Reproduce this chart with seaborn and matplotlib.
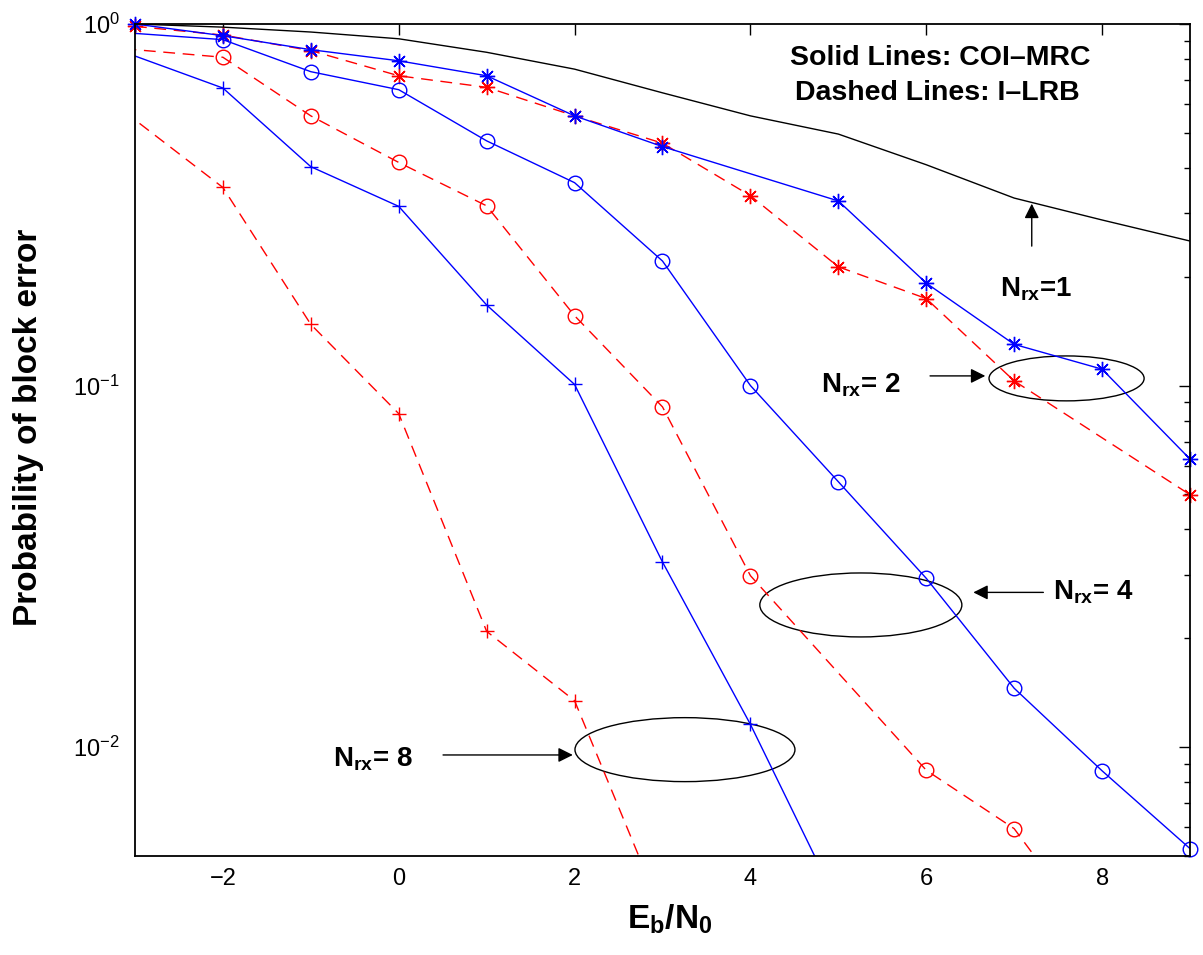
import matplotlib
matplotlib.use("Agg")
import numpy as np
import matplotlib.pyplot as plt
import seaborn as sns
from matplotlib.patches import Ellipse
from matplotlib.ticker import LogLocator, FixedLocator, NullFormatter

# ---- data: probability of block error vs Eb/N0 (dB) ----
nrx1_x = [-3, -2, -1, 0, 1, 2, 3, 4, 5, 6, 7, 8, 9]
nrx1_coi = [1.0, 0.98, 0.95, 0.91, 0.835, 0.75, 0.645, 0.557, 0.496, 0.408, 0.33, 0.287, 0.251]

nrx2_coi_x = [-3, -2, -1, 0, 1, 2, 3, 5, 6, 7, 8, 9]
nrx2_coi = [1.0, 0.928, 0.849, 0.791, 0.719, 0.557, 0.458, 0.324, 0.192, 0.130, 0.111, 0.0626]
nrx2_lrb_x = [-3, -2, -1, 0, 1, 2, 3, 4, 5, 6, 7, 9]
nrx2_lrb = [0.985, 0.932, 0.844, 0.719, 0.668, 0.557, 0.468, 0.335, 0.213, 0.174, 0.103, 0.0499]

nrx4_coi_x = [-4, -2, -1, 0, 1, 2, 3, 4, 5, 6, 7, 8, 9]
nrx4_coi = [0.98, 0.905, 0.738, 0.658, 0.475, 0.364, 0.221, 0.100, 0.0542, 0.0293, 0.01455, 0.0086, 0.00524]
nrx4_lrb_x = [-4, -2, -1, 0, 1, 2, 3, 4, 6, 7, 8]
nrx4_lrb = [0.891, 0.809, 0.557, 0.414, 0.314, 0.156, 0.0873, 0.0298, 0.00863, 0.00595, 0.0028]

nrx8_coi_x = [-4, -2, -1, 0, 1, 2, 3, 4, 5]
nrx8_coi = [1.0, 0.665, 0.403, 0.313, 0.167, 0.1007, 0.0325, 0.01156, 0.00367]
nrx8_lrb_x = [-4, -2, -1, 0, 1, 2, 3]
nrx8_lrb = [0.835, 0.353, 0.1476, 0.0836, 0.0209, 0.01344, 0.00347]

x_ticks = [-2, 0, 2, 4, 6, 8]
x_limits = (-3, 9)
y_limits = (0.005, 1.0)

# ---- style ----
sns.set_theme(style="white")
plt.rcParams["font.family"] = ["Liberation Sans", "DejaVu Sans"]
plt.rcParams["mathtext.fontset"] = "custom"
plt.rcParams["mathtext.rm"] = "Liberation Sans"
plt.rcParams["mathtext.it"] = "Liberation Sans:italic"
plt.rcParams["mathtext.bf"] = "Liberation Sans:bold"
plt.rcParams["axes.unicode_minus"] = True
for key in ("text.color", "axes.labelcolor", "xtick.color", "ytick.color",
            "axes.edgecolor"):
    plt.rcParams[key] = "black"

fig = plt.figure(figsize=(12.03, 9.55), dpi=100)
ax = fig.add_axes([0.1122, 0.1037, 0.877, 0.8712])
ax.set_yscale("log")
ax.set_xlim(*x_limits)
ax.set_ylim(*y_limits)

DASH = (8.5, 5.5)


def draw(xs, ys, color, marker=None, dashed=False, msize=10.0, filled_face=False):
    xs = np.asarray(xs, dtype=float)
    ys = np.asarray(ys, dtype=float)
    sns.lineplot(x=xs, y=ys, ax=ax, color=color, lw=1.0,
                 estimator=None, sort=False, legend=False,
                 linestyle="--" if dashed else "-")
    if dashed:
        ax.lines[-1].set_dashes(DASH)
    if marker is None:
        return
    # markers at the frame edges are drawn whole, on top of the spines
    keep = (xs >= x_limits[0]) & (xs <= x_limits[1]) & (ys >= y_limits[0]) & (ys <= y_limits[1])
    sns.lineplot(x=xs[keep], y=ys[keep], ax=ax, color=color, linestyle="none",
                 marker=marker, markersize=msize, markeredgewidth=1.0,
                 markeredgecolor=color,
                 markerfacecolor=color if filled_face else "none",
                 estimator=None, sort=False, legend=False, clip_on=False)


BLUE = (0.0, 0.0, 1.0)
RED = (1.0, 0.0, 0.0)
STAR = (8, 2, 0)

draw(nrx1_x, nrx1_coi, "black")
draw(nrx2_lrb_x, nrx2_lrb, RED, STAR, dashed=True, filled_face=True, msize=11)
draw(nrx2_coi_x, nrx2_coi, BLUE, STAR, filled_face=True, msize=11)
draw(nrx4_lrb_x, nrx4_lrb, RED, "o", dashed=True, msize=10.5)
draw(nrx4_coi_x, nrx4_coi, BLUE, "o", msize=10.5)
draw(nrx8_lrb_x, nrx8_lrb, RED, "+", dashed=True)
draw(nrx8_coi_x, nrx8_coi, BLUE, "+")

# ---- axes & ticks ----
ax.xaxis.set_major_locator(FixedLocator(x_ticks))
ax.yaxis.set_major_locator(LogLocator(base=10, numticks=10))
ax.yaxis.set_minor_locator(LogLocator(base=10, subs=np.arange(2, 10), numticks=20))
ax.yaxis.set_minor_formatter(NullFormatter())
ax.tick_params(which="both", direction="in", top=True, right=True,
               width=1.0, color="black", labelcolor="black")
ax.tick_params(which="major", length=8, labelsize=17)
ax.tick_params(which="minor", length=4.5)
ax.tick_params(axis="x", which="major", pad=9)
ax.tick_params(axis="y", which="major", pad=11)
for s in ax.spines.values():
    s.set_linewidth(1.3)
    s.set_color("black")

ax.set_xlabel(r"$\mathbf{E}_\mathbf{b}\mathbf{/N}_\mathbf{0}$", fontsize=24)
ax.set_ylabel("Probability of block error", fontsize=24, fontweight="bold")
ax.xaxis.set_label_coords(0.507, -0.056)
ax.yaxis.set_label_coords(-0.086, 0.515)

# ---- annotations ----
T = ax.transAxes
ax.text(0.621, 0.959, "Solid Lines: COI–MRC", transform=T, fontsize=20.5,
        fontweight="bold", va="center", ha="left")
ax.text(0.626, 0.917, "Dashed Lines: I–LRB", transform=T, fontsize=20.5,
        fontweight="bold", va="center", ha="left")


def nlabel(x, y, tail):
    ax.text(x, y, r"$\mathbf{N}_\mathbf{rx}$" + tail, transform=T, fontsize=20,
            fontweight="bold", va="baseline", ha="left")


def arrow(x0, y0, x1, y1):
    ax.annotate("", xy=(x1, y1), xytext=(x0, y0), xycoords="axes fraction",
                textcoords="axes fraction",
                arrowprops=dict(arrowstyle="-|>", color="black", lw=1.0,
                                mutation_scale=22, shrinkA=0, shrinkB=0))


def ring(cx, cy, w, h):
    ax.add_patch(Ellipse((cx, cy), w, h, transform=T, fill=False,
                         edgecolor="black", lw=1.0))


nlabel(0.820, 0.673, "=1")
arrow(0.850, 0.733, 0.850, 0.784)

nlabel(0.650, 0.5565, "= 2")
arrow(0.7536, 0.577, 0.806, 0.577)
ring(0.883, 0.574, 0.147, 0.054)

nlabel(0.870, 0.3077, "= 4")
arrow(0.861, 0.3168, 0.7946, 0.3168)
ring(0.688, 0.3017, 0.1915, 0.0769)

nlabel(0.1877, 0.1073, "= 8")
arrow(0.292, 0.1214, 0.415, 0.1214)
ring(0.5213, 0.1278, 0.2085, 0.0769)

fig.savefig("out.png", dpi=100, facecolor="white")
